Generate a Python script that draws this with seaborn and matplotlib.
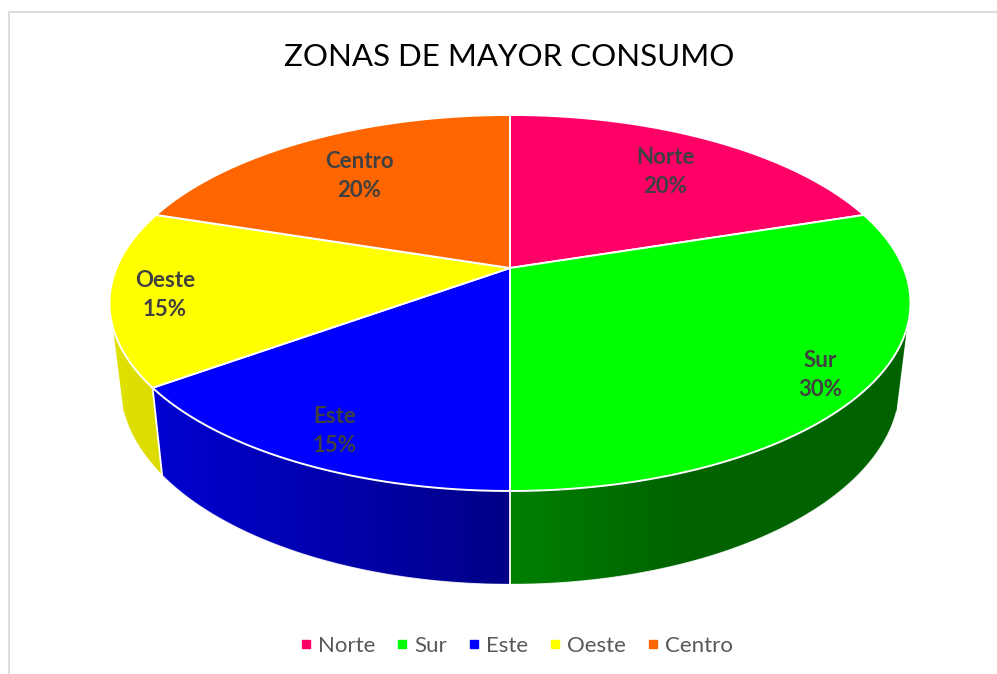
import numpy as np
import matplotlib
matplotlib.use('Agg')
import matplotlib.pyplot as plt
from matplotlib.lines import Line2D
from matplotlib.patches import Polygon
import seaborn as sns

# chart data
zonas = ['Norte', 'Sur', 'Este', 'Oeste', 'Centro']
porcentajes = [20, 30, 15, 15, 20]
colores = ['#FF0066', '#00FF00', '#0000FF', '#FFFF00', '#FF6600']
titulo = 'ZONAS DE MAYOR CONSUMO'

# label anchor in figure pixels
label_x = [665, 820, 335, 165, 359]
label_y = [172, 375, 431, 295, 176]

# side wall brightness at wedge start / end (only the front is visible)
sombra_ini = [1, 0.39, 0.53, 0.86, 1]
sombra_fin = [1, 0.50, 0.82, 0.88, 1]

sns.set_theme(style='white')
plt.rcParams['font.family'] = ['Lato', 'DejaVu Sans']
palette = sns.color_palette(colores)

fig = plt.figure(figsize=(9.97, 6.74), dpi=100)
ax = fig.add_axes([0, 0, 1, 1])
ax.set_axis_off()


# perspective view of a disc, angle clockwise from 12 o'clock
def disco(ang, cy, a, b, cx=510, k=0.186):
    t = np.radians(ang)
    u, v = np.sin(t), -np.cos(t)
    return cx + a * u / (1 - k * v), cy + b * v / (1 - k * v)


def arriba(ang):
    return disco(ang, 268, 393.5, 181.5)


def abajo(ang):
    return disco(ang, 348.5, 383, 192)


limites = np.concatenate([[0], np.cumsum(porcentajes)]) * 3.6
VISIBLE = (108, 252)

# side walls first, horizontal gradient clipped to the wall outline
for i, c in enumerate(palette):
    ini = max(limites[i], VISIBLE[0])
    fin = min(limites[i + 1], VISIBLE[1])
    if fin <= ini:
        continue
    angs = np.linspace(ini, fin, 80)
    xt, yt = arriba(angs)
    xb, yb = abajo(angs)
    contorno = np.column_stack([np.r_[xt, xb[::-1]], np.r_[yt, yb[::-1]]])
    x0, x1 = contorno[:, 0].min(), contorno[:, 0].max()
    y0, y1 = contorno[:, 1].min(), contorno[:, 1].max()
    xs = np.linspace(x0, x1, 300)
    if zonas[i] == 'Sur':
        # dark until about x=680, then brightens towards the front seam
        f = np.interp(xs, [510, 680], [sombra_fin[i], sombra_ini[i]])
    else:
        f = np.interp(xs, [x0, x1], [sombra_fin[i], sombra_ini[i]])
    grad = np.outer(f, np.array(c))[None, :, :]
    poly = Polygon(contorno, closed=True, transform=ax.transData, fc='none', ec='none')
    ax.add_patch(poly)
    im = ax.imshow(grad, extent=(x0, x1, y1, y0), aspect='auto', interpolation='bilinear', zorder=1)
    im.set_clip_path(poly)
    # soft edge along the bottom rim
    ax.plot(xb, yb, color='white', lw=0.8, alpha=0.8, zorder=2)
    if VISIBLE[0] <= limites[i + 1] <= VISIBLE[1]:
        xa, ya = arriba(limites[i + 1])
        xc, yc = abajo(limites[i + 1])
        ax.plot([xa, xc], [ya, yc], color='white', lw=1.3, zorder=2)

# top of the pie
cx, cy = arriba(0.0)[0], 268
for i, c in enumerate(palette):
    angs = np.linspace(limites[i], limites[i + 1], 120)
    x, y = arriba(angs)
    ax.fill(np.r_[cx, x], np.r_[cy, y], facecolor=c, edgecolor='white', lw=1.4, joinstyle='round', zorder=3)

for x, y, z, p in zip(label_x, label_y, zonas, porcentajes):
    ax.text(x, y, f'{z}\n{p}%', ha='center', va='center', fontsize=16, fontweight='bold',
            color='#404040', linespacing=1.42, zorder=4)

ax.text(509, 57, titulo, ha='center', va='center', fontsize=22.5, color='black')

# thin frame of the chart area
ax.plot([8.5, 8.5, 997], [674, 11.5, 11.5], color='#D9D9D9', lw=1.3, zorder=0)

handles = [Line2D([], [], ls='', marker='s', ms=6, color=c) for c in palette]
ax.legend(handles, zonas, loc='center', bbox_to_anchor=(514, 646), bbox_transform=ax.transData,
          ncol=5, frameon=False, fontsize=16, labelcolor='#595959', handletextpad=0.05,
          columnspacing=0.7, handlelength=1.0)

ax.set_xlim(0, 997)
ax.set_ylim(674, 0)
fig.savefig('out.png', dpi=100)
